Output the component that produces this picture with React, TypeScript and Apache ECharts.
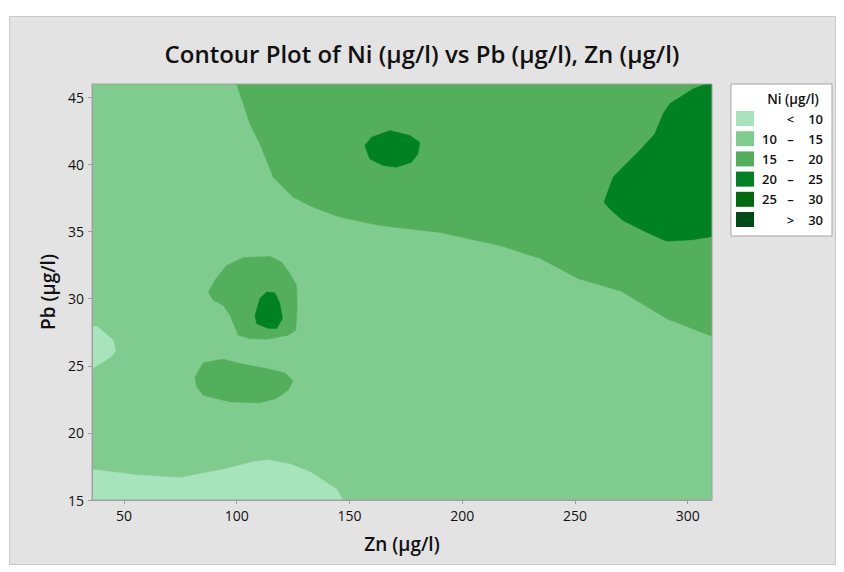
import React, { useEffect, useRef } from "react";
import * as echarts from "echarts";

// Axis ranges (Zn on x, Pb on y)
const XMIN = 35.8;
const XMAX = 310.8;
const YMIN = 15;
const YMAX = 46;
const X_TICKS = [50, 100, 150, 200, 250, 300];
const Y_TICKS = [15, 20, 25, 30, 35, 40, 45];

// Contour levels
const LEVEL_NAMES = ["< 10", "10 – 15", "15 – 20", "20 – 25", "25 – 30", "> 30"];
const LEVEL_COLORS = ["#A7E4BB", "#80CC8E", "#53AF5B", "#008122", "#006A10", "#004B17"];

// Contour regions, vertices as [Zn, Pb]
const BASE_10_15 = [[XMIN, YMIN], [XMAX, YMIN], [XMAX, YMAX], [XMIN, YMAX]];

const LT10_BOTTOM = [
  [XMIN, YMIN], [XMIN, 17.28], [55.6, 16.86], [74.8, 16.66], [93.9, 17.28], [107.2, 17.85],
  [113.8, 17.98], [123.6, 17.68], [132.4, 17.11], [144.4, 15.8], [147.1, YMIN],
];
const LT10_LEFT = [
  [XMIN, 27.95], [38.5, 27.89], [45.2, 26.9], [46.4, 26.11], [44.5, 25.71], [40.8, 25.29], [XMIN, 24.8],
];

const R15_TOP = [
  [99.9, YMAX], [102.9, 44.52], [105.8, 43.03], [110.3, 41.54], [116.2, 39.05], [125.0, 37.57],
  [133.9, 36.82], [145.7, 36.08], [163.5, 35.46], [190.1, 34.94], [216.7, 33.97], [234.4, 33.01],
  [243.3, 32.24], [251.4, 31.5], [270.6, 30.55], [290.6, 28.52], [XMAX, 27.2], [XMAX, YMAX],
];
const R15_BLOB_UPPER = [
  [87.4, 30.5], [90.3, 31.37], [95.5, 32.49], [102.9, 33.06], [114.7, 33.15], [119.9, 32.73],
  [123.6, 31.87], [126.5, 31.0], [126.8, 29.38], [126.2, 27.65], [122.8, 27.28], [113.2, 26.98],
  [105.8, 27.03], [100.7, 27.28], [97.0, 28.76], [94.0, 29.51], [89.6, 29.88],
];
const R15_BLOB_LOWER = [
  [81.5, 24.17], [85.1, 25.22], [94.0, 25.49], [101.4, 25.17], [113.2, 24.8], [121.4, 24.47],
  [125.0, 23.88], [122.8, 23.18], [117.7, 22.57], [110.3, 22.24], [97.0, 22.31], [85.1, 22.81],
  [82.2, 23.43],
];

const R20_RIGHT = [
  [308.0, YMAX], [302.3, 45.63], [292.0, 44.52], [289.1, 43.77], [285.4, 42.28], [278.7, 41.04],
  [270.6, 39.68], [266.9, 39.05], [262.9, 37.19], [265.4, 36.7], [271.3, 35.83], [281.7, 34.96],
  [290.6, 34.29], [302.3, 34.4], [XMAX, 34.64], [XMAX, YMAX],
];
const R20_TOP_ISLAND = [
  [156.8, 41.41], [159.8, 42.03], [167.9, 42.53], [176.8, 42.16], [181.2, 41.66], [180.4, 40.8],
  [177.5, 40.17], [170.9, 39.8], [164.9, 39.92], [159.0, 40.42],
];
const R20_BLOB = [
  [108.1, 28.76], [110.3, 30.01], [113.2, 30.5], [116.9, 30.45], [119.1, 29.64], [120.3, 28.52],
  [117.7, 27.78], [114.0, 27.78], [108.8, 28.15],
];

const REGIONS_BY_LEVEL: number[][][][] = [
  [LT10_BOTTOM, LT10_LEFT],
  [BASE_10_15],
  [R15_TOP, R15_BLOB_UPPER, R15_BLOB_LOWER],
  [R20_RIGHT, R20_TOP_ISLAND, R20_BLOB],
  [],
  [],
];
const LEVEL_Z = [3, 1, 4, 5, 6, 7];

const FONT = "'Open Sans', 'Noto Sans', sans-serif";

export default function App() {
  const ref = useRef<HTMLDivElement>(null);

  useEffect(() => {
    if (!ref.current) return;
    const chart = echarts.init(ref.current, undefined, { renderer: "svg" });

    const series = LEVEL_NAMES.map((name, li) => {
      const regions = REGIONS_BY_LEVEL[li];
      return {
        type: "custom",
        name,
        z: LEVEL_Z[li],
        clip: true,
        itemStyle: { color: LEVEL_COLORS[li] },
        data: regions.map((_, i) => [i]),
        renderItem: (params: any, api: any) => {
          const pts = regions[params.dataIndex].map((p) => api.coord(p));
          return {
            type: "polygon",
            shape: { points: pts },
            style: { fill: LEVEL_COLORS[li], stroke: LEVEL_COLORS[li], lineWidth: 0.5 },
          };
        },
      };
    });

    const legendFormatter = (name: string) => {
      if (name.startsWith("<") || name.startsWith(">")) {
        return `{l| }{d|${name.charAt(0)}}{r|${name.slice(2)}}`;
      }
      const parts = name.split(" – ");
      return `{l|${parts[0]}}{d|–}{r|${parts[1]}}`;
    };

    const legendText = { fontSize: 13, lineHeight: 15, fontFamily: FONT, color: "#111", fontWeight: 600 };

    chart.setOption({
      animation: false,
      backgroundColor: "#ffffff",
      textStyle: { fontFamily: FONT },
      title: {
        text: "Contour Plot of Ni (µg/l) vs Pb (µg/l), Zn (µg/l)",
        left: "center",
        top: 36,
        textStyle: { fontFamily: FONT, fontSize: 24, fontWeight: 600, color: "#111" },
      },
      graphic: [
        {
          type: "rect",
          z: -10,
          silent: true,
          shape: { x: 9.5, y: 16.5, width: 826, height: 548 },
          style: { fill: "#E3E3E3", stroke: "#C9C9C9", lineWidth: 1 },
        },
        {
          type: "text",
          z: 100,
          silent: true,
          x: 793,
          y: 99,
          style: {
            text: "Ni (µg/l)",
            textAlign: "center",
            textVerticalAlign: "middle",
            fontFamily: FONT,
            fontSize: 13.5,
            fontWeight: 600,
            fill: "#111",
          },
        },
      ],
      legend: {
        orient: "vertical",
        left: 731,
        top: 84,
        padding: [27, 9, 9, 5],
        backgroundColor: "#ffffff",
        borderColor: "#A6A6A6",
        borderWidth: 1,
        borderRadius: 0,
        icon: "rect",
        itemWidth: 18,
        itemHeight: 15,
        itemGap: 5.2,
        selectedMode: false,
        data: LEVEL_NAMES,
        formatter: legendFormatter,
        textStyle: {
          ...legendText,
          rich: {
            l: { width: 21, align: "right", ...legendText },
            d: { width: 21, align: "center", ...legendText },
            r: { width: 22, align: "right", ...legendText },
          },
        },
        z: 10,
      },
      grid: {
        left: 92,
        right: 132,
        top: 84,
        bottom: 72,
        show: true,
        backgroundColor: "transparent",
        borderColor: "#A0A0A0",
        borderWidth: 1,
        z: 10,
      },
      xAxis: {
        type: "value",
        min: XMIN,
        max: XMAX,
        name: "Zn (µg/l)",
        nameLocation: "middle",
        nameGap: 34,
        nameTextStyle: { fontFamily: FONT, fontSize: 19, fontWeight: 600, color: "#111" },
        z: 10,
        axisLine: { show: true, lineStyle: { color: "#A0A0A0", width: 1 } },
        axisTick: { show: true, length: 4, customValues: X_TICKS, lineStyle: { color: "#A0A0A0" } },
        axisLabel: { customValues: X_TICKS, margin: 8, fontSize: 14, color: "#111", fontFamily: FONT },
        splitLine: { show: false },
      },
      yAxis: {
        type: "value",
        min: YMIN,
        max: YMAX,
        name: "Pb (µg/l)",
        nameLocation: "middle",
        nameGap: 33,
        nameTextStyle: { fontFamily: FONT, fontSize: 19, fontWeight: 600, color: "#111" },
        z: 10,
        axisLine: { show: true, lineStyle: { color: "#A0A0A0", width: 1 } },
        axisTick: { show: true, length: 4, customValues: Y_TICKS, lineStyle: { color: "#A0A0A0" } },
        axisLabel: { customValues: Y_TICKS, margin: 8, fontSize: 14, color: "#111", fontFamily: FONT },
        splitLine: { show: false },
      },
      series,
    });

    return () => chart.dispose();
  }, []);

  return (
    <div
      ref={ref}
      style={{ position: "fixed", left: 0, top: 0, width: 844, height: 572 }}
    />
  );
}
